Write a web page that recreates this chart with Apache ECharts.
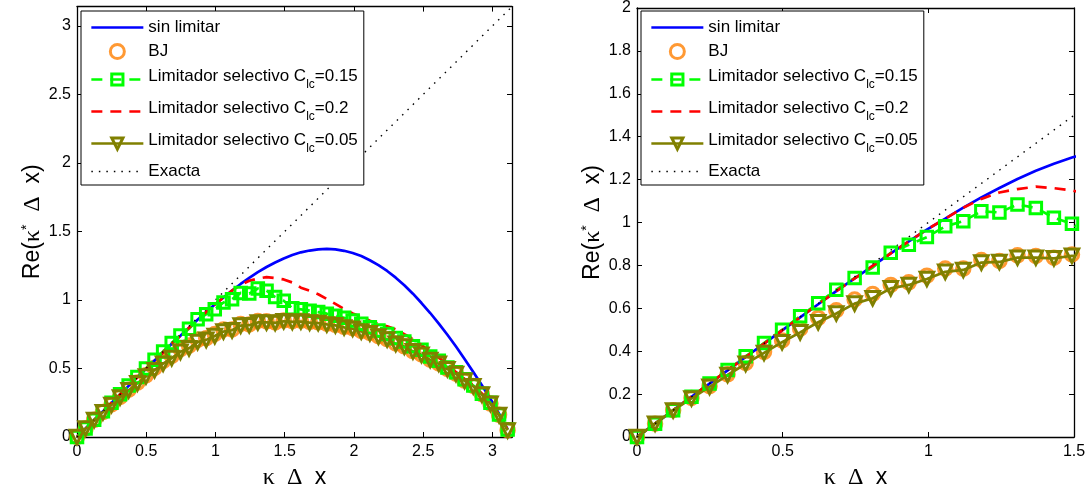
<!DOCTYPE html>
<html>
<head>
<meta charset="utf-8">
<script src="https://cdn.jsdelivr.net/npm/echarts@6.0.0/dist/echarts.min.js"></script>
<style>
  html, body { margin: 0; padding: 0; background: #ffffff; }
  #chart { width: 1092px; height: 495px; }
</style>
</head>
<body>
<div id="chart"></div>
<script>
// Modified wavenumber: real part of kappa* dx versus kappa dx
const kappaDx = [0, 0.062, 0.124, 0.187, 0.249, 0.311, 0.373, 0.436, 0.498, 0.560, 0.622, 0.684, 0.747, 0.809, 0.871, 0.933, 0.995, 1.058, 1.120, 1.182, 1.244, 1.306, 1.369, 1.431, 1.493, 1.555, 1.617, 1.680, 1.742, 1.804, 1.866, 1.929, 1.991, 2.053, 2.115, 2.177, 2.240, 2.302, 2.364, 2.426, 2.488, 2.551, 2.613, 2.675, 2.737, 2.799, 2.862, 2.924, 2.986, 3.048, 3.110];

const sinLimitar = [0, 0.062, 0.124, 0.187, 0.249, 0.311, 0.373, 0.435, 0.497, 0.558, 0.619, 0.680, 0.739, 0.798, 0.856, 0.912, 0.967, 1.018, 1.069, 1.117, 1.161, 1.203, 1.241, 1.274, 1.303, 1.328, 1.348, 1.361, 1.370, 1.373, 1.369, 1.359, 1.343, 1.321, 1.290, 1.254, 1.212, 1.163, 1.108, 1.046, 0.978, 0.905, 0.828, 0.746, 0.660, 0.570, 0.475, 0.378, 0.278, 0.170, 0.055];

const bj = [0, 0.062, 0.125, 0.182, 0.237, 0.292, 0.345, 0.397, 0.450, 0.505, 0.555, 0.591, 0.641, 0.667, 0.709, 0.721, 0.752, 0.785, 0.785, 0.825, 0.821, 0.847, 0.844, 0.836, 0.851, 0.846, 0.849, 0.840, 0.837, 0.827, 0.819, 0.804, 0.794, 0.774, 0.760, 0.736, 0.715, 0.683, 0.662, 0.627, 0.602, 0.564, 0.537, 0.497, 0.462, 0.412, 0.372, 0.312, 0.244, 0.162, 0.050];

const selectivo015 = [0, 0.062, 0.125, 0.188, 0.250, 0.312, 0.376, 0.438, 0.500, 0.563, 0.624, 0.687, 0.741, 0.790, 0.859, 0.896, 0.932, 0.982, 1.006, 1.052, 1.047, 1.084, 1.068, 1.022, 0.994, 0.940, 0.932, 0.922, 0.912, 0.900, 0.885, 0.870, 0.850, 0.826, 0.802, 0.777, 0.752, 0.722, 0.697, 0.662, 0.636, 0.588, 0.556, 0.508, 0.472, 0.422, 0.376, 0.316, 0.250, 0.165, 0.055];

const selectivo02 = [0, 0.062, 0.124, 0.187, 0.249, 0.311, 0.373, 0.435, 0.497, 0.558, 0.619, 0.680, 0.739, 0.798, 0.856, 0.912, 0.967, 1.018, 1.069, 1.110, 1.140, 1.156, 1.167, 1.160, 1.150, 1.128, 1.090, 1.068, 1.042, 1.008, 0.972, 0.935, 0.902, 0.876, 0.848, 0.826, 0.808, 0.785, 0.750, 0.716, 0.670, 0.628, 0.580, 0.524, 0.474, 0.424, 0.376, 0.318, 0.252, 0.166, 0.055];

const selectivo005 = [0, 0.062, 0.124, 0.180, 0.234, 0.289, 0.341, 0.392, 0.442, 0.488, 0.535, 0.576, 0.622, 0.647, 0.693, 0.709, 0.737, 0.770, 0.779, 0.813, 0.816, 0.836, 0.836, 0.833, 0.845, 0.840, 0.843, 0.835, 0.832, 0.822, 0.815, 0.800, 0.790, 0.770, 0.757, 0.733, 0.712, 0.680, 0.660, 0.625, 0.600, 0.562, 0.535, 0.495, 0.460, 0.410, 0.370, 0.310, 0.242, 0.160, 0.048];

const exactaK = [0, 3.1416];
const exactaRe = [0, 3.1416];

// Tick labels
const fullTicks = [0, 0.5, 1, 1.5, 2, 2.5, 3];
const zoomXTicks = [0, 0.5, 1, 1.5];
const zoomYTicks = [0, 0.2, 0.4, 0.6, 0.8, 1, 1.2, 1.4, 1.6, 1.8, 2];

const NAMES = {
  sin: 'sin limitar',
  bj: 'BJ',
  c015: 'Limitador selectivo C_lc=0.15',
  c02: 'Limitador selectivo C_lc=0.2',
  c005: 'Limitador selectivo C_lc=0.05',
  exact: 'Exacta'
};

const BLUE = '#0000ff', ORANGE = '#ff8000', GREEN = '#00ff00', RED = '#ff0000', OLIVE = '#808000', BLACK = '#000000';
const CLEAR = 'rgba(0,0,0,0)';
const DASH = [11, 8];
const DOT = [1.5, 6];
const LW = 2.7;
const MW = 3;
const SANS = 'Liberation Sans, Arial, Helvetica, sans-serif';
const SERIF = 'Liberation Serif, Times New Roman, serif';

const pairs = (xs, ys) => xs.map((x, i) => [x, ys[i]]);

function tickFormatter(ticks) {
  return v => {
    const t = ticks.find(t => Math.abs(t - v) < 1e-7);
    return t === undefined ? '' : String(t);
  };
}

const panels = [
  { left: 77, top: 6.6, width: 435, height: 436.7, xMax: Math.PI, yMax: Math.PI, xStep: 0.5, yStep: 0.5,
    xTicks: fullTicks, yTicks: fullTicks, legendLeft: 81, yNameGap: 30 },
  { left: 637, top: 7.3, width: 437, height: 436, xMax: 1.5, yMax: 2, xStep: 0.5, yStep: 0.2,
    xTicks: zoomXTicks, yTicks: zoomYTicks, legendLeft: 641, yNameGap: 27 }
];

const axisLineStyle = { color: BLACK, width: 1.3 };
const tickStyle = { show: true, inside: true, length: 5, lineStyle: { color: BLACK, width: 1 } };
const labelStyle = { color: BLACK, fontSize: 16, fontFamily: SANS };

const nameRich = {
  a: { fontFamily: SANS, fontSize: 23, color: BLACK },
  k: { fontFamily: SERIF, fontSize: 24, color: BLACK },
  s: { fontFamily: SANS, fontSize: 14, color: BLACK, padding: [0, 0, 11, 0] }
};

const grid = [], xAxis = [], yAxis = [], series = [], legend = [];

panels.forEach((p, g) => {
  grid.push({ left: p.left, top: p.top, width: p.width, height: p.height, containLabel: false });

  const xBase = {
    type: 'value', gridIndex: g, min: 0, max: p.xMax, interval: p.xStep,
    axisLine: { show: true, onZero: false, lineStyle: axisLineStyle },
    axisTick: tickStyle, splitLine: { show: false }
  };
  xAxis.push(Object.assign({}, xBase, {
    position: 'bottom',
    axisLabel: Object.assign({ margin: 7, formatter: tickFormatter(p.xTicks), showMaxLabel: true }, labelStyle),
    name: '{k|κ}  {k|Δ}  {a|x}', nameLocation: 'middle', nameGap: 29,
    nameTextStyle: { fontSize: 22, fontFamily: SANS, color: BLACK, rich: nameRich }
  }));
  xAxis.push(Object.assign({}, xBase, { position: 'top', axisLabel: { show: false } }));

  const yBase = {
    type: 'value', gridIndex: g, min: 0, max: p.yMax, interval: p.yStep,
    axisLine: { show: true, onZero: false, lineStyle: axisLineStyle },
    axisTick: tickStyle, splitLine: { show: false }
  };
  yAxis.push(Object.assign({}, yBase, {
    position: 'left',
    axisLabel: Object.assign({ margin: 6, formatter: tickFormatter(p.yTicks) }, labelStyle),
    name: '{a|Re(}{k|κ}{s|*}{a|  }{k|Δ}{a|  x)}', nameLocation: 'middle', nameGap: p.yNameGap,
    nameTextStyle: { fontSize: 22, fontFamily: SANS, color: BLACK, rich: nameRich }
  }));
  yAxis.push(Object.assign({}, yBase, { position: 'right', axisLabel: { show: false } }));

  const ax = { xAxisIndex: 2 * g, yAxisIndex: 2 * g };

  series.push(Object.assign({
    name: NAMES.sin, type: 'line', data: pairs(kappaDx, sinLimitar), symbol: 'none',
    lineStyle: { color: BLUE, width: LW }, itemStyle: { color: BLUE }
  }, ax));
  series.push(Object.assign({
    name: NAMES.bj, type: 'scatter', data: pairs(kappaDx, bj), symbol: 'circle', symbolSize: 13.5,
    itemStyle: { color: CLEAR, borderColor: ORANGE, borderWidth: MW }
  }, ax));
  series.push(Object.assign({
    name: NAMES.c015, type: 'line', data: pairs(kappaDx, selectivo015), symbol: 'rect', symbolSize: 11.5, showSymbol: true,
    lineStyle: { color: GREEN, width: LW, type: DASH },
    itemStyle: { color: CLEAR, borderColor: GREEN, borderWidth: MW }
  }, ax));
  series.push(Object.assign({
    name: NAMES.c02, type: 'line', data: pairs(kappaDx, selectivo02), symbol: 'none',
    lineStyle: { color: RED, width: LW, type: DASH }, itemStyle: { color: RED }
  }, ax));
  series.push(Object.assign({
    name: NAMES.c005, type: 'line', data: pairs(kappaDx, selectivo005), symbol: 'triangle', symbolRotate: 180,
    symbolSize: 13.5, showSymbol: true,
    lineStyle: { color: OLIVE, width: LW },
    itemStyle: { color: CLEAR, borderColor: OLIVE, borderWidth: MW }
  }, ax));
  series.push(Object.assign({
    name: NAMES.exact, type: 'line', data: pairs(exactaK, exactaRe), symbol: 'none',
    lineStyle: { color: BLACK, width: 1.4, type: DOT }, itemStyle: { color: BLACK }
  }, ax));

  legend.push({
    orient: 'vertical', left: p.legendLeft, top: 11,
    padding: [8, 6, 5, 9], itemWidth: 52, itemHeight: 14, itemGap: 7,
    backgroundColor: '#ffffff', borderColor: BLACK, borderWidth: 1, borderRadius: 0,
    selectedMode: false,
    textStyle: {
      color: BLACK, fontSize: 17, fontFamily: SANS,
      rich: {
        p: { fontSize: 17, lineHeight: 20, fontFamily: SANS, color: BLACK },
        m: { fontSize: 17, lineHeight: 20, fontFamily: SANS, color: BLACK, padding: [0, 0, 7, 0] },
        sub: { fontSize: 12, lineHeight: 14, fontFamily: SANS, color: BLACK, padding: [12, 0, 1, 0] }
      }
    },
    formatter: name => {
      const i = name.indexOf('C_lc');
      if (i < 0) return '{p|' + name + '}';
      return '{m|' + name.slice(0, i) + 'C}{sub|lc}{m|' + name.slice(i + 4) + '}';
    },
    data: [
      { name: NAMES.sin, itemStyle: { opacity: 0 }, lineStyle: { color: BLUE, width: LW, type: 'solid' } },
      { name: NAMES.bj, itemStyle: { color: CLEAR, borderColor: ORANGE, borderWidth: MW } },
      { name: NAMES.c015, itemStyle: { color: CLEAR, borderColor: GREEN, borderWidth: MW },
        lineStyle: { color: GREEN, width: LW, type: DASH } },
      { name: NAMES.c02, itemStyle: { opacity: 0 }, lineStyle: { color: RED, width: LW, type: DASH } },
      { name: NAMES.c005, itemStyle: { color: CLEAR, borderColor: OLIVE, borderWidth: MW },
        lineStyle: { color: OLIVE, width: LW, type: 'solid' } },
      { name: NAMES.exact, itemStyle: { opacity: 0 }, lineStyle: { color: BLACK, width: 1.4, type: DOT } }
    ]
  });
});

const chart = echarts.init(document.getElementById('chart'), null, { renderer: 'canvas' });
chart.setOption({
  animation: false,
  backgroundColor: '#ffffff',
  grid, xAxis, yAxis, series, legend
});
</script>
</body>
</html>
